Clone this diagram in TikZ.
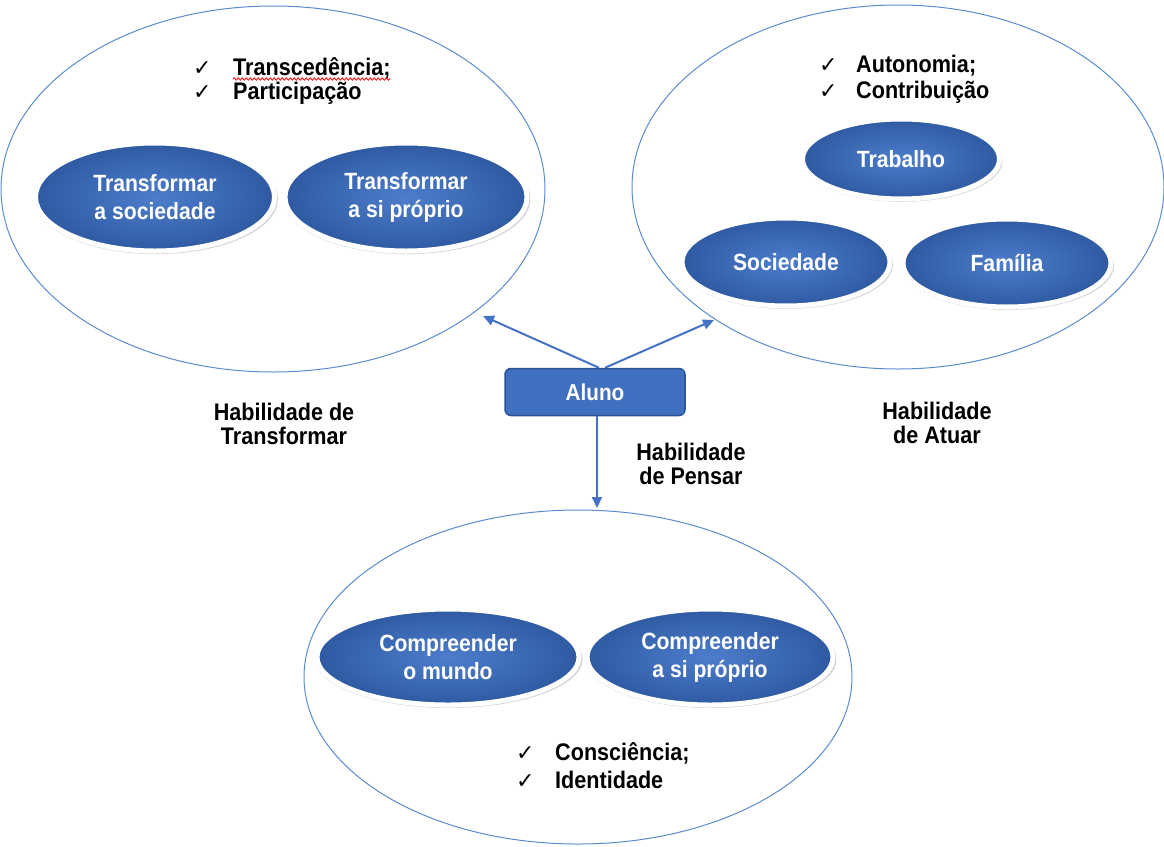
\documentclass[tikz,border=0pt]{standalone}
\usepackage{fontspec}
\setmainfont{Liberation Sans}[FakeStretch=0.9]
\newfontfamily\symfont{DejaVu Sans}
\usetikzlibrary{shapes.geometric,shadows,arrows.meta,decorations.pathmorphing}
\definecolor{ringblue}{HTML}{5B8BD0}
\definecolor{blobin}{HTML}{4D7DCB}
\definecolor{blobout}{HTML}{2F5AA2}
\definecolor{arrowblue}{HTML}{4472C4}
\definecolor{boxblue}{HTML}{4170C0}
\definecolor{boxedge}{HTML}{2C5295}
\tikzset{
  ring/.style={ellipse, draw=ringblue, line width=1pt, inner sep=0pt},
  blob/.style={ellipse, inner sep=0pt, draw=white, line width=5pt,
    inner color=blobin, outer color=blobout,
    drop shadow={opacity=0.35, shadow xshift=1pt, shadow yshift=-2pt, shadow scale=1.02},
    text=white, font=\fontsize{23.5}{28}\selectfont\bfseries, align=center},
  item/.style={anchor=base west, inner sep=0pt, font=\fontsize{24}{28}\selectfont\bfseries},
  tick/.style={anchor=base west, inner sep=0pt, font=\symfont\fontsize{22}{22}\selectfont},
  label/.style={inner sep=0pt, align=center, font=\fontsize{24}{24}\selectfont\bfseries},
  arr/.style={draw=arrowblue, line width=2pt, -{Triangle[length=11pt,width=10pt]}}
}
\begin{document}
\begin{tikzpicture}[x=1pt,y=-1pt]
\useasboundingbox (0,0) rectangle (1164,846);

% outer groups
\node[ring, minimum width=544, minimum height=366] (ringT) at (273,189) {};
\node[ring, minimum width=532, minimum height=364] (ringA) at (898,187) {};
\node[ring, minimum width=548, minimum height=334] (ringP) at (578,677) {};

% left group
\node[blob, minimum width=239, minimum height=108] (tsoc) at (155,197) {Transformar\\a sociedade};
\node[blob, minimum width=242, minimum height=108] (tsi) at (406,197) {Transformar\\a si próprio};

% right group
\node[blob, minimum width=197, minimum height=80] (trab) at (901,159) {Trabalho};
\node[blob, minimum width=208, minimum height=88] (soc) at (786,262) {Sociedade};
\node[blob, minimum width=208, minimum height=88] (fam) at (1007,263) {Família};

% bottom group
\node[blob, minimum width=262, minimum height=96] (cmun) at (448,657) {Compreender\\o mundo};
\node[blob, minimum width=246, minimum height=96] (csi) at (710,657) {Compreender\\a si próprio};

% centre
\node[rectangle, rounded corners=6pt, fill=boxblue, draw=boxedge, line width=1.5pt,
      minimum width=180, minimum height=47, inner sep=0pt,
      text=white, font=\fontsize{23}{24}\selectfont\bfseries] (aluno) at (595,392) {Aluno};

\coordinate (tipT) at (483,316);
\coordinate (tipA) at (714,320);
\coordinate (tipP) at (597,508);
\draw[arr] ([xshift=4pt]aluno.north) -- (tipT);
\draw[arr] ([xshift=10pt]aluno.north) -- (tipA);
\draw[arr] ([xshift=2pt]aluno.south) -- (tipP);

% check lists
\node[tick] (c1) at (193,75) {✓};
\node[item] (t1) at (233,75) {Transcedência;};
\node[tick] (c2) at (193,99) {✓};
\node[item] (t2) at (233,99) {Participação};
\draw[red, line width=0.8pt, decorate, decoration={snake, amplitude=1.2pt, segment length=4pt}]
  ([yshift=-4pt]t1.base west) -- ([yshift=-4pt]t1.base east);

\node[tick] (c3) at (819,72) {✓};
\node[item] (t3) at (856,72) {Autonomia;};
\node[tick] (c4) at (819,98) {✓};
\node[item] (t4) at (856,98) {Contribuição};

\node[tick] (c5) at (516,760) {✓};
\node[item] (t5) at (555,760) {Consciência;};
\node[tick] (c6) at (516,788) {✓};
\node[item] (t6) at (555,788) {Identidade};

% group labels
\node[label] (lT) at (284,424) {Habilidade de\\Transformar};
\node[label] (lA) at (937,423) {Habilidade\\de Atuar};
\node[label] (lP) at (691,464) {Habilidade\\de Pensar};
\end{tikzpicture}
\end{document}
